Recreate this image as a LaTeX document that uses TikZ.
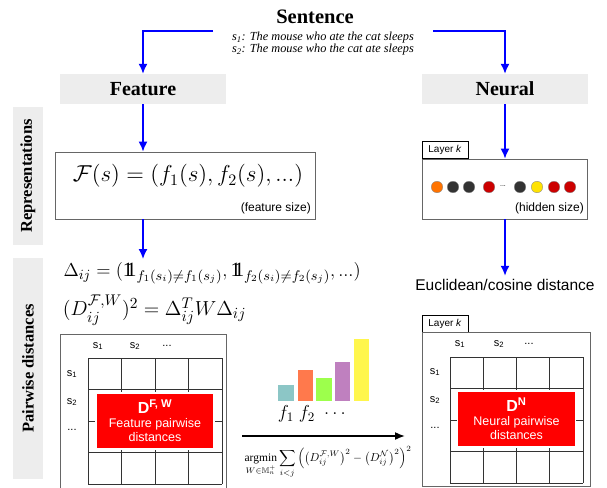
\documentclass[tikz,border=0pt]{standalone}
\usepackage{amsmath,amssymb}
\usepackage{fontspec}
\setmainfont{Liberation Serif}
\setsansfont{Liberation Sans}
\usetikzlibrary{arrows.meta}
\newcommand{\indi}{\mathrm{1}\mkern-6.5mu\mathrm{1}}

\begin{document}
\begin{tikzpicture}[x=1pt, y=-1pt,
	flow/.style={blue, line width=1.6pt, -{Latex[length=10pt,width=9pt]}},
	head/.style={fill=black!7, minimum width=166pt, minimum height=30pt, inner sep=0pt, font=\fontsize{20}{20}\selectfont\bfseries},
	side/.style={fill=black!7, rotate=90, inner sep=0pt, minimum height=30pt, font=\fontsize{16.5}{16.5}\selectfont\bfseries},
	panel/.style={draw=black!60, line width=0.8pt, inner sep=0pt},
	tabbox/.style={draw=black, line width=0.8pt, minimum width=46pt, minimum height=17pt, inner sep=0pt, font=\sffamily\fontsize{10}{10}\selectfont},
	lab/.style={font=\sffamily\fontsize{11}{11}\selectfont, inner sep=0pt},
	gridline/.style={draw=black!80, line width=0.8pt},
	dist/.style={fill=red, draw=white, line width=1.5pt, text=white, align=center, minimum width=118pt, minimum height=56pt, inner sep=0pt, font=\sffamily\fontsize{12.5}{14}\selectfont},
	unit/.style={circle, inner sep=0pt, minimum size=11.5pt, draw=black!50, line width=0.3pt}]
	\useasboundingbox (0,0) rectangle (607,487);
	% sentence
	\node (sent) at (315,17) {\fontsize{20.5}{20.5}\selectfont\bfseries Sentence};
	\node (ex1) at (323,38) {\fontsize{12.3}{12.3}\selectfont\itshape s\textsubscript{1}: The mouse who ate the cat sleeps};
	\node (ex2) at (323,50) {\fontsize{12.3}{12.3}\selectfont\itshape s\textsubscript{2}: The mouse who the cat ate sleeps};
	\coordinate (lt) at (213,31);
	\coordinate (rt) at (433,31);
	% the two columns
	\node[head] (feat) at (143,89) {Feature};
	\node[head] (neur) at (505,89) {Neural};
	\draw[flow] (lt) -| (feat.north);
	\draw[flow] (rt) -| (neur.north);
	\node[side, minimum width=138pt] (rep) at (28,176) {Representations};
	\node[side, minimum width=221pt] (pair) at (28,368.5) {Pairwise distances};
	% feature representation
	\node[panel, minimum width=260pt, minimum height=67pt] (fbox) at (185,185.5) {};
	\node[scale=1.6] (fform) at (188,176) {\fontsize{14.5}{14.5}\selectfont$\mathcal{F}(s) = (f_1(s), f_2(s), ...)$};
	\node[lab, anchor=south east, font=\sffamily\fontsize{12}{12}\selectfont] (fsize) at (311,214) {(feature size)};
	\draw[flow] (feat.south) -- (feat.south |- fbox.north);
	\coordinate (fdown) at (143,259);
	\draw[flow] (fdown |- fbox.south) -- (fdown);
	% neural representation
	\node[tabbox] (ntab1) at (445,150) {Layer \textit{k}};
	\node[panel, minimum width=165pt, minimum height=60pt] (nbox) at (504.5,189) {};
	\draw[flow] (neur.south) -- (neur.south |- nbox.north);
	\node[unit, fill=orange!90!red] (u1) at (437,187) {};
	\node[unit, fill=black!80] (u2) at (453,187) {};
	\node[unit, fill=black!80] (u3) at (469,187) {};
	\node[unit, fill=red!80!black] (u4) at (489,187) {};
	\node[font=\sffamily\fontsize{7}{7}\selectfont] (udots) at (503,186) {...};
	\node[unit, fill=black!80] (u5) at (520,187) {};
	\node[unit, fill=yellow!85!orange] (u6) at (537,187) {};
	\node[unit, fill=red!80!black] (u7) at (554,187) {};
	\node[unit, fill=red!80!black] (u8) at (570,187) {};
	\node[lab, anchor=south east, font=\sffamily\fontsize{12}{12}\selectfont] (hsize) at (584,214) {(hidden size)};
	\node (eucl) at (505,285) {\sffamily\fontsize{15.5}{15.5}\selectfont Euclidean/cosine distance};
	\draw[flow] (neur.south |- nbox.south) -- (eucl.north);
	% feature distances
	\node[anchor=west, scale=1.56] (delta) at (58,273) {\fontsize{13}{13}\selectfont$\Delta_{ij} = (\indi_{f_1(s_i)\neq f_1(s_j)}, \indi_{f_2(s_i)\neq f_2(s_j)}, ...)$};
	\node[anchor=west, scale=1.41] (dfwq) at (58,310) {\fontsize{15}{15}\selectfont$(D_{ij}^{\mathcal{F},W})^2 = \Delta_{ij}^T W \Delta_{ij}$};
	\node[panel, minimum width=166pt, minimum height=160pt] (mat1) at (143,414) {};
	\begin{scope}[shift={(88,358)}]
		\foreach \i in {0,...,4} {
			\draw[gridline] (\i*33.5,0) -- (\i*33.5,126);
			\draw[gridline] (0,\i*31.5) -- (134,\i*31.5);
		}
		\node[lab] (c1) at (10,-12) {s\textsubscript{1}};
		\node[lab] (c2) at (47,-12) {s\textsubscript{2}};
		\node[lab] (c3) at (79,-12) {...};
		\node[lab] (r1) at (-16,16) {s\textsubscript{1}};
		\node[lab] (r2) at (-16,44) {s\textsubscript{2}};
		\node[lab] (r3) at (-16,72) {...};
		\node[dist] (dfw) at (67,63) {\textbf{\fontsize{16}{16}\selectfont D\textsuperscript{F, W}}\\Feature pairwise\\distances};
	\end{scope}
	% feature weights
	\fill[teal!45] (278,385) rectangle (294,401);
	\fill[red!50!orange!70] (298,370) rectangle (313,401);
	\fill[lime!60!green!70] (316,378) rectangle (332,401);
	\fill[violet!50] (335,362) rectangle (350,401);
	\fill[yellow!70] (354,339) rectangle (369,401);
	\node[scale=1.3] (w1) at (286,414) {\fontsize{14}{14}\selectfont$f_1$};
	\node[scale=1.3] (w2) at (307,414) {\fontsize{14}{14}\selectfont$f_2$};
	\node[scale=1.3] (w3) at (335,414) {\fontsize{14}{14}\selectfont$\ldots$};
	\coordinate (optL) at (242,436);
	\coordinate (optR) at (405,436);
	\draw[line width=1.6pt, -{Latex[length=10pt,width=8pt]}] (optL) -- (optR);
	\node[scale=1.15] (argmin) at (328,462) {$\displaystyle\operatorname*{argmin}_{W\in\mathbb{M}_n^+}\sum_{i<j}\Big(\big(D_{ij}^{\mathcal{F},W}\big)^2-\big(D_{ij}^{\mathcal{N}}\big)^2\Big)^2$};
	% neural distances
	\node[tabbox] (ntab2) at (445,323.5) {Layer \textit{k}};
	\node[panel, minimum width=168pt, minimum height=154pt] (mat2) at (506,409) {};
	\begin{scope}[shift={(450,357)}]
		\foreach \i in {0,...,4} {
			\draw[gridline] (\i*33.25,0) -- (\i*33.25,126);
			\draw[gridline] (0,\i*31.5) -- (133,\i*31.5);
		}
		\node[lab] (d1) at (10,-13) {s\textsubscript{1}};
		\node[lab] (d2) at (49,-13) {s\textsubscript{2}};
		\node[lab] (d3) at (79,-13) {...};
		\node[lab] (q1) at (-15,15) {s\textsubscript{1}};
		\node[lab] (q2) at (-15,43) {s\textsubscript{2}};
		\node[lab] (q3) at (-15,71) {...};
		\node[dist] (dn) at (66.5,62) {\textbf{\fontsize{16}{16}\selectfont D\textsuperscript{N}}\\Neural pairwise\\distances};
	\end{scope}
\end{tikzpicture}
\end{document}
